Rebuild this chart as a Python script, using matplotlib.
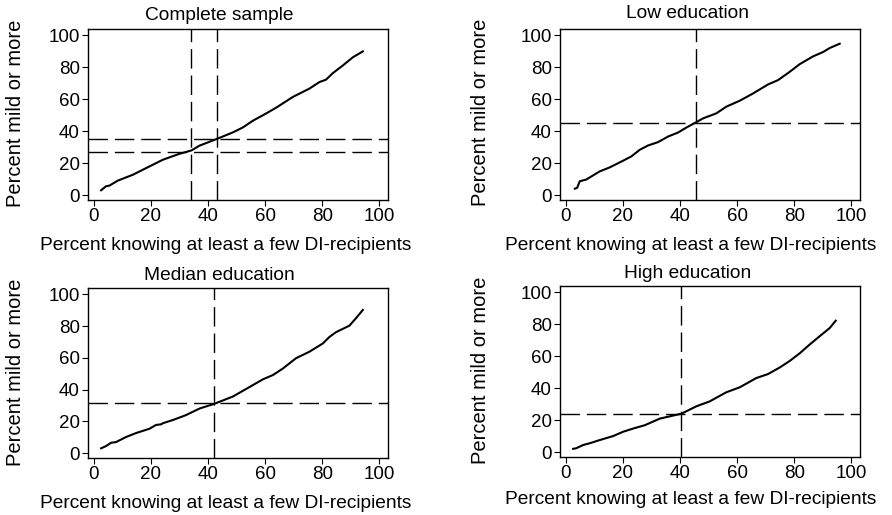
import matplotlib
matplotlib.use("Agg")
import matplotlib.pyplot as plt

plt.rcParams['font.family'] = ['Liberation Sans', 'DejaVu Sans']

# ---------------- data ----------------
titles = ["Complete sample", "Low education", "Median education", "High education"]
xlabel = "Percent knowing at least a few DI-recipients"
ylabel = "Percent mild or more"
ticks = [0, 20, 40, 60, 80, 100]

complete_x = [2.6, 4.3, 5.5, 8.4, 13.7, 19.5, 24.2, 30.0, 34.2, 37.0, 42.8, 48.7, 52.2, 55.7,
              60.3, 63.8, 69.7, 75.5, 79.0, 81.3, 83.7, 87.2, 90.7, 94.2]
complete_y = [3.1, 5.6, 6.0, 9.1, 12.8, 18.0, 22.2, 25.9, 28.0, 31.0, 35.0, 39.3, 42.4, 46.6,
              51.1, 54.7, 61.5, 66.7, 70.8, 72.3, 76.4, 81.2, 86.3, 90.0]
complete_vx = [34.2, 43.1]
complete_hy = [35.0, 27.0]

low_x = [3.2, 4.0, 4.9, 6.1, 7.2, 9.6, 11.9, 15.4, 20.1, 23.0, 25.9, 28.8, 32.3, 35.8, 39.3,
         42.2, 45.5, 48.1, 52.7, 56.2, 60.9, 65.6, 70.8, 74.3, 78.4, 81.9, 86.6, 90.1, 92.4, 95.9]
low_y = [4.1, 4.6, 8.7, 9.3, 9.8, 12.4, 14.9, 17.4, 21.6, 24.3, 28.4, 31.1, 33.2, 36.7, 39.2,
         42.3, 45.5, 48.1, 51.2, 55.4, 59.1, 63.7, 69.3, 72.0, 77.2, 82.0, 86.9, 89.6, 92.1, 94.8]
low_vx = [45.5]
low_hy = [45.3]

median_x = [2.6, 4.3, 6.1, 7.8, 11.3, 14.8, 19.5, 21.8, 23.6, 24.2, 27.7, 32.3, 37.0, 42.2,
            48.7, 53.3, 59.2, 62.7, 66.2, 70.8, 75.5, 80.2, 82.5, 84.8, 89.5, 91.8, 94.2]
median_y = [3.1, 4.5, 6.6, 7.0, 10.2, 12.7, 15.4, 17.8, 18.2, 18.9, 20.9, 24.0, 28.1, 31.1,
            35.7, 40.4, 46.5, 49.2, 53.3, 59.8, 63.9, 69.1, 73.2, 76.2, 80.3, 85.0, 90.2]
median_vx = [42.2]
median_hy = [31.5]

high_x = [2.6, 3.7, 6.1, 8.4, 11.9, 16.6, 20.1, 23.6, 27.7, 32.9, 40.5, 45.7, 50.4, 56.2,
          60.9, 66.7, 70.8, 74.9, 78.4, 81.9, 85.4, 88.9, 92.4, 94.5]
high_y = [2.1, 2.5, 4.5, 5.6, 7.6, 10.1, 12.8, 14.8, 16.9, 21.0, 24.1, 28.7, 31.8, 37.5,
          40.6, 46.4, 48.9, 53.0, 57.1, 61.9, 67.4, 72.6, 77.7, 82.3]
high_vx = [40.5]
high_hy = [23.8]

panels = [
    (complete_x, complete_y, complete_vx, complete_hy),
    (low_x, low_y, low_vx, low_hy),
    (median_x, median_y, median_vx, median_hy),
    (high_x, high_y, high_vx, high_hy),
]

# ---------------- layout (pixels) ----------------
W, H = 892, 515
fig = plt.figure(figsize=(W / 100, H / 100), dpi=100)

# left, top, right, bottom of each axes frame in pixels
boxes = [(88, 29, 388, 200), (560, 29, 860, 200), (88, 288, 388, 458), (560, 286, 860, 457)]
title_pos = [(219, 15), (688, 14), (219, 275), (688, 274)]
xlabel_pos = [(226, 245), (691, 245), (226, 504), (691, 500)]
ylabel_pos = [(16, 113), (481, 112), (16, 372), (481, 370)]

FS_TICK = 13.5
FS_TITLE = 13.8
FS_XL = 13.75
FS_YL = 14.5
for i, (x, y, vx, hy) in enumerate(panels):
    l, t, r, b = boxes[i]
    ax = fig.add_axes([l / W, 1 - b / H, (r - l) / W, (b - t) / H])
    ax.plot(x, y, color='black', lw=1.5, solid_joinstyle='round')
    for v in vx:
        ax.axvline(v, color='black', lw=1.0, dashes=(14, 5))
    for h in hy:
        ax.axhline(h, color='black', lw=1.0, dashes=(14, 5))
    ax.set_xlim(-2, 103)
    ax.set_ylim(-3, 104)
    ax.set_xticks(ticks)
    ax.set_yticks(ticks)
    ax.tick_params(direction='out', length=4, width=0.8, labelsize=FS_TICK, pad=2,
                   top=False, right=False)
    for s in ax.spines.values():
        s.set_linewidth(1.0)
    fig.text(title_pos[i][0] / W, 1 - title_pos[i][1] / H, titles[i], ha='center', va='center',
             fontsize=FS_TITLE)
    fig.text(xlabel_pos[i][0] / W, 1 - xlabel_pos[i][1] / H, xlabel, ha='center', va='center',
             fontsize=FS_XL)
    fig.text(ylabel_pos[i][0] / W, 1 - ylabel_pos[i][1] / H, ylabel, ha='center', va='center',
             fontsize=FS_YL, rotation=90)

fig.savefig("out.png", dpi=100)
